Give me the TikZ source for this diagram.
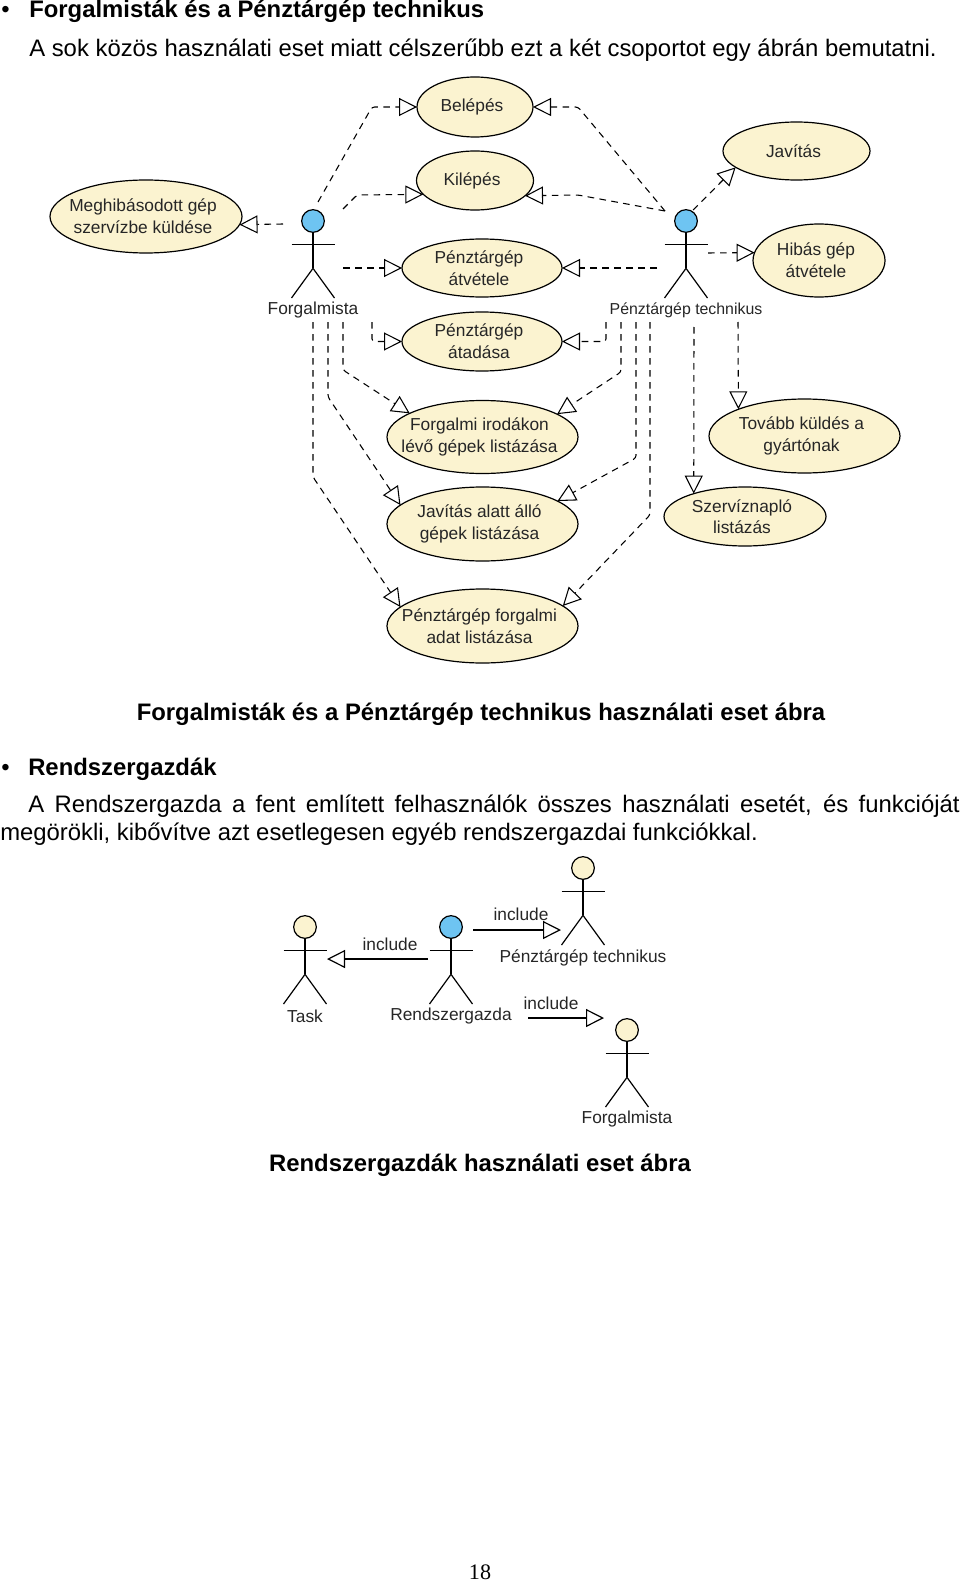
\documentclass[tikz,border=0pt]{standalone}
\usepackage{fontspec}
\setmainfont{Liberation Sans}
\newfontfamily\pagefont{Liberation Serif}
\usetikzlibrary{shapes.geometric,arrows.meta,calc}
\definecolor{casefill}{RGB}{251,243,208}
\definecolor{headblue}{RGB}{110,196,242}
\tikzset{
>={Triangle[open,length=13.5pt,width=13.5pt]},
  usecase/.style 2 args={
    ellipse,
    draw=black, line width=0.9pt,
    fill=casefill,
    inner sep=-12pt, outer sep=0pt,
    minimum width=#1*1.5pt,
    minimum height=#2*1.5pt,
    align=center,
    text=black!85,
    execute at begin node={\hspace*{-4.5pt}},
    font=\fontsize{13}{16.2}\selectfont},
  head/.style={circle, draw=black, line width=0.9pt, inner sep=0pt, outer sep=0pt, minimum size=17pt},
  limb/.style={draw=black, line width=0.9pt},
  actorlabel/.style={text=black!85, inner sep=0pt, font=\fontsize{13}{16}\selectfont},
  smalllabel/.style={text=black!85, inner sep=0pt, font=\fontsize{11.9}{14}\selectfont},
  dep/.style={draw=black, dash pattern=on 5pt off 4pt, rounded corners=2pt, ->, line width=0.8pt},
  incl/.style={draw=black, line width=0.9pt, ->},
  bodytext/.style={anchor=base west, inner sep=0pt, font=\fontsize{17.9}{21}\selectfont},
  headline/.style={anchor=base west, inner sep=0pt, font=\fontsize{17.9}{21}\selectfont\bfseries},
  caption/.style={anchor=base, inner sep=0pt, font=\fontsize{17.9}{21}\selectfont\bfseries},
}
% name, x, y, head colour, label style, label
\newcommand{\actor}[6]{
  \node[head, fill=#4] (#1) at (#2,#3) {};
  \draw[limb] (#1.south) -- ++(0,36) coordinate (#1crotch);
  \draw[limb] ($(#2,#3)+(-21.5,23.5)$) -- ($(#2,#3)+(21.5,23.5)$);
  \draw[limb] ($(#2,#3)+(-21.5,77)$) -- (#1crotch) -- ($(#2,#3)+(21.5,77)$);
  \node[#5] (#1label) at ($(#2,#3)+(0,89.5)$) {#6};
}
\begin{document}
\begin{tikzpicture}[x=0.75pt,y=-0.75pt]
  \useasboundingbox (0,0) rectangle (960,1583);
  \node[bodytext] (bulletA) at (1,18) {\textbullet};
  \node[headline] (titleA) at (29,18) {Forgalmisták és a Pénztárgép technikus};
  \node[bodytext] (intro) at (29,57) {A sok közös használati eset miatt célszerűbb ezt a két csoportot egy ábrán bemutatni.};

  \node[usecase={96}{36.5}] (Meghibasodott) at (146,216.5) {Meghibásodott gép\\szervízbe küldése};
  \node[usecase={58}{30}] (Belepes) at (475,107) {Belépés};
  \node[usecase={58.5}{29.5}] (Kilepes) at (475,180.5) {Kilépés};
  \node[usecase={80}{29}] (Atvetele) at (482,268) {Pénztárgép\\átvétele};
  \node[usecase={80}{29.5}] (Atadasa) at (482,341.5) {Pénztárgép\\átadása};
  \node[usecase={73.5}{29}] (Javitas) at (796.5,151) {Javítás};
  \node[usecase={66}{36.5}] (Hibas) at (819,260.5) {Hibás gép\\átvétele};
  \node[usecase={95.5}{36.5}] (Irodak) at (482.5,437) {Forgalmi irodákon\\lévő gépek listázása};
  \node[usecase={95.5}{37}] (JavitasAlatt) at (482.5,524) {Javítás alatt álló\\gépek listázása};
  \node[usecase={95.5}{37}] (AdatLista) at (482.5,626) {Pénztárgép forgalmi\\adat listázása};
  \node[usecase={95.5}{37}] (Tovabb) at (804.5,436) {Tovább küldés a\\gyártónak};
  \node[usecase={81}{29.5}] (Szerviz) at (745,516.5) {Szervíznapló\\listázás};

  \actor{Forgalmista}{313}{221}{headblue}{actorlabel}{Forgalmista}
  \actor{Technikus}{686}{221}{headblue}{smalllabel}{Pénztárgép technikus}

  \coordinate (fMeghib) at (283,224);
  \coordinate (fBelepes) at (318,202);
  \coordinate (fKilepes) at (343,209);
  \coordinate (fAtvetele) at (343,268);
  \coordinate (fAtadasa) at (372,322);
  \coordinate (fIrodak) at (343,322);
  \coordinate (fJavitas) at (328,322);
  \coordinate (fAdat) at (313,322);
  \coordinate (tBelepes) at (665,211);
  \coordinate (tKilepes) at (665,211);
  \coordinate (tJavitas) at (693,210);
  \coordinate (tHibas) at (708,253);
  \coordinate (tAtvetele) at (657,268);
  \coordinate (tAtadasa) at (606,322);
  \coordinate (tIrodak) at (621,322);
  \coordinate (tAlatt) at (636,322);
  \coordinate (tAdat) at (650,322);
  \coordinate (tSzerviz) at (694,327);
  \coordinate (tTovabb) at (738,322);

  \draw[dep] (fMeghib) -- (Meghibasodott.355.5);
  \draw[dep] (fBelepes) -- (372,107) -- (Belepes.west);
  \draw[dep] (fKilepes) -- (357,195) -- (Kilepes.195.6);
  \draw[dep] (fAtvetele) -- (Atvetele.west);
  \draw[dep] (fAtadasa) -- (372,341.5) -- (Atadasa.west);
  \draw[dep] (fIrodak) -- (343,370) -- (Irodak.162.5);
  \draw[dep] (fJavitas) -- (328,397) -- (JavitasAlatt.167);
  \draw[dep] (fAdat) -- (313,477) -- (AdatLista.167.4);
  \draw[dep] (tBelepes) -- (578,107) -- (Belepes.east);
  \draw[dep] (tKilepes) -- (578,195) -- (Kilepes.343.8);
  \draw[dep] (tJavitas) -- (Javitas.195.7);
  \draw[dep] (tHibas) -- (Hibas.173.5);
  \draw[dep] (tAtvetele) -- (Atvetele.east);
  \draw[dep] (tAtadasa) -- (606,341.5) -- (Atadasa.east);
  \draw[dep] (tIrodak) -- (621,372) -- (Irodak.17.7);
  \draw[dep] (tAlatt) -- (636,458) -- (JavitasAlatt.17.5);
  \draw[dep] (tAdat) -- (650,515) -- (AdatLista.14.9);
  \draw[dep] (tSzerviz) -- (Szerviz.156.2);
  \draw[dep] (tTovabb) -- (Tovabb.158.6);

  \node[caption] (captionA) at (481,720) {Forgalmisták és a Pénztárgép technikus használati eset ábra};
  \node[bodytext] (bulletB) at (1,775) {\textbullet};
  \node[headline] (titleB) at (28,775) {Rendszergazdák};
  \node[bodytext, text width=719.5pt, align=justify, anchor=north west] (para) at (0,795) {\hspace*{21pt}A Rendszergazda a fent említett felhasználók összes használati esetét, és funkcióját megörökli, kibővítve azt esetlegesen egyéb rendszergazdai funkciókkal.};

  \actor{Task}{305}{927}{casefill}{actorlabel}{Task}
  \actor{Rendszergazda}{451}{927}{headblue}{actorlabel}{Rendszergazda}
  \actor{TechnikusB}{583}{868}{casefill}{actorlabel}{Pénztárgép technikus}
  \actor{ForgalmistaB}{627}{1030}{casefill}{actorlabel}{Forgalmista}

  \coordinate (rTaskFrom) at (428,959);
  \coordinate (rTaskTo) at (327,959);
  \coordinate (rTechFrom) at (473,930);
  \coordinate (rTechTo) at (561,930);
  \coordinate (rForgFrom) at (528,1018);
  \coordinate (rForgTo) at (604,1018);
  \draw[incl] (rTaskFrom) -- (rTaskTo);
  \draw[incl] (rTechFrom) -- (rTechTo);
  \draw[incl] (rForgFrom) -- (rForgTo);
  \node[actorlabel] (inclTask) at (390,944) {include};
  \node[actorlabel] (inclTech) at (521,914) {include};
  \node[actorlabel] (inclForg) at (551,1003) {include};

  \node[caption] (captionB) at (480,1171) {Rendszergazdák használati eset ábra};
  \node[anchor=base, inner sep=0pt, font=\pagefont\fontsize{16.6}{20}\selectfont] (pageno) at (480,1579) {18};
\end{tikzpicture}
\end{document}
